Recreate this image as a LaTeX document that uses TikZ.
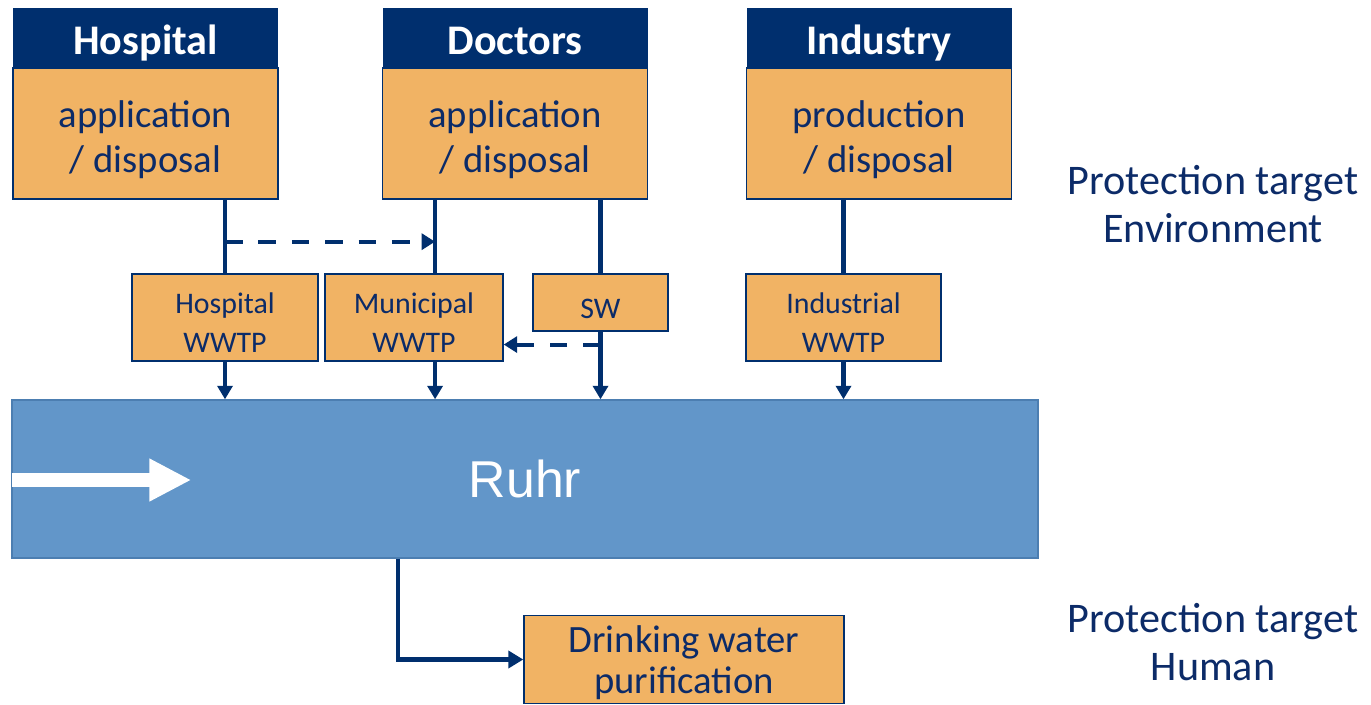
\documentclass[tikz,border=0pt]{standalone}
\usepackage{fontspec}
\setmainfont{Carlito}
\newfontfamily\arialfont{Liberation Sans}
\usepackage{tikz}
\usetikzlibrary{
  arrows.meta,
  positioning,
  calc
}
\definecolor{navyhead}{HTML}{002F6E}
\definecolor{navytext}{HTML}{0C2B68}
\definecolor{boxfill}{HTML}{F1B364}
\definecolor{riverblue}{HTML}{6296C9}
\definecolor{riverline}{HTML}{4C7EB1}

\begin{document}
\begin{tikzpicture}[
  head/.style={fill=navyhead, text=white, minimum width=5.3cm, minimum height=1.18cm,
    inner sep=0pt, text height=0.66cm, text depth=0pt,
    font=\fontsize{24}{28}\selectfont\bfseries},
  body/.style={draw=navyhead, line width=0.8pt, fill=boxfill, text=navytext,
    minimum width=5.3cm, minimum height=2.62cm, inner sep=0pt, align=center,
    text height=1.54cm, text depth=0pt, font=\fontsize{22}{25.6}\selectfont},
  plant/.style={draw=navyhead, line width=0.8pt, fill=boxfill, text=navytext,
    minimum height=1.74cm, inner sep=0pt, align=center,
    text height=1.40cm, text depth=0pt, font=\fontsize{17}{22.2}\selectfont},
  target/.style={text=navytext, align=center, font=\fontsize{24}{27.3}\selectfont},
  flow/.style={draw=navyhead, line width=2.3pt},
  flowarr/.style={flow, -{Triangle[length=0.27cm 0, width=0.3cm 0]}},
  dasharr/.style={flow, dash pattern=on 10pt off 9pt,
    -{Triangle[length=0.27cm 0, width=0.32cm 0]}},
]
  \useasboundingbox (0,0) rectangle (27.42,-14.08);

  % Sources
  \node[head] (hosphead) at (2.91,-0.75) {Hospital};
  \node[body, below=0pt of hosphead] (hospbody) {application\\/ disposal};
  \node[head] (dochead) at (10.30,-0.75) {Doctors};
  \node[body, below=0pt of dochead] (docbody) {application\\/ disposal};
  \node[head] (indhead) at (17.58,-0.75) {Industry};
  \node[body, below=0pt of indhead] (indbody) {production\\/ disposal};

  % Treatment plants
  \node[plant, minimum width=3.72cm] (hwwtp) at (4.50,-6.35) {Hospital\\WWTP};
  \node[plant, minimum width=3.56cm] (mwwtp) at (8.28,-6.35) {Municipal\\WWTP};
  \node[plant, minimum width=2.70cm, minimum height=1.14cm, text height=0.63cm]
    (sw) at (12.01,-6.05) {SW};
  \node[plant, minimum width=3.90cm] (iwwtp) at (16.87,-6.35) {Industrial\\WWTP};

  % River
  \node[draw=riverline, line width=0.8pt, fill=riverblue, text=white,
    minimum width=20.52cm, minimum height=3.16cm,
    font=\fontsize{29.5}{34}\arialfont] (ruhr) at (10.50,-9.58) {Ruhr};
  \coordinate (flowstart) at ($(ruhr.west)+(0.02,-0.02)$);
  \draw[white, line width=0.28cm, -{Triangle[length=0.84cm 0, width=0.8cm 0]}]
    (flowstart) -- ++(3.58,0);

  \node[plant, minimum width=6.40cm, minimum height=1.76cm, text height=1.36cm,
    font=\fontsize{22}{23.3}\selectfont] (drink) at (13.68,-13.19)
    {Drinking water\\purification};

  % Protection targets
  \node[target] (envtarget) at (24.26,-4.08) {Protection target\\Environment};
  \node[target] (humtarget) at (24.26,-12.84) {Protection target\\Human};

  % Connectors
  \draw[flow] (hwwtp.north |- hospbody.south) -- (hwwtp.north);
  \draw[flowarr] (hwwtp.south) -- (hwwtp.south |- ruhr.north);
  \coordinate (mx) at ($(docbody.south west)!0.2!(docbody.south east)$);
  \draw[flow] (mx) -- (mx |- mwwtp.north);
  \draw[flowarr] (mx |- mwwtp.south) -- (mx |- ruhr.north);
  \coordinate (hmid) at ($(hwwtp.north |- hospbody.south)!0.57!(hwwtp.north)$);
  \draw[dasharr] (hmid) -- (hmid -| mx);
  \draw[flow] (sw.north |- docbody.south) -- (sw.north);
  \draw[flowarr] (sw.south) -- (sw.south |- ruhr.north);
  \coordinate (swmid) at ($(sw.south)!0.19!(sw.south |- ruhr.north)$);
  \draw[dasharr] (swmid) -- (swmid -| mwwtp.east);
  \draw[flow] (iwwtp.north |- indbody.south) -- (iwwtp.north);
  \draw[flowarr] (iwwtp.south) -- (iwwtp.south |- ruhr.north);
  \coordinate (rx) at ($(ruhr.south west)!0.376!(ruhr.south east)$);
  \draw[flow, -{Triangle[length=0.3cm 0, width=0.34cm 0]}] (rx) |- (drink.west);
\end{tikzpicture}
\end{document}
